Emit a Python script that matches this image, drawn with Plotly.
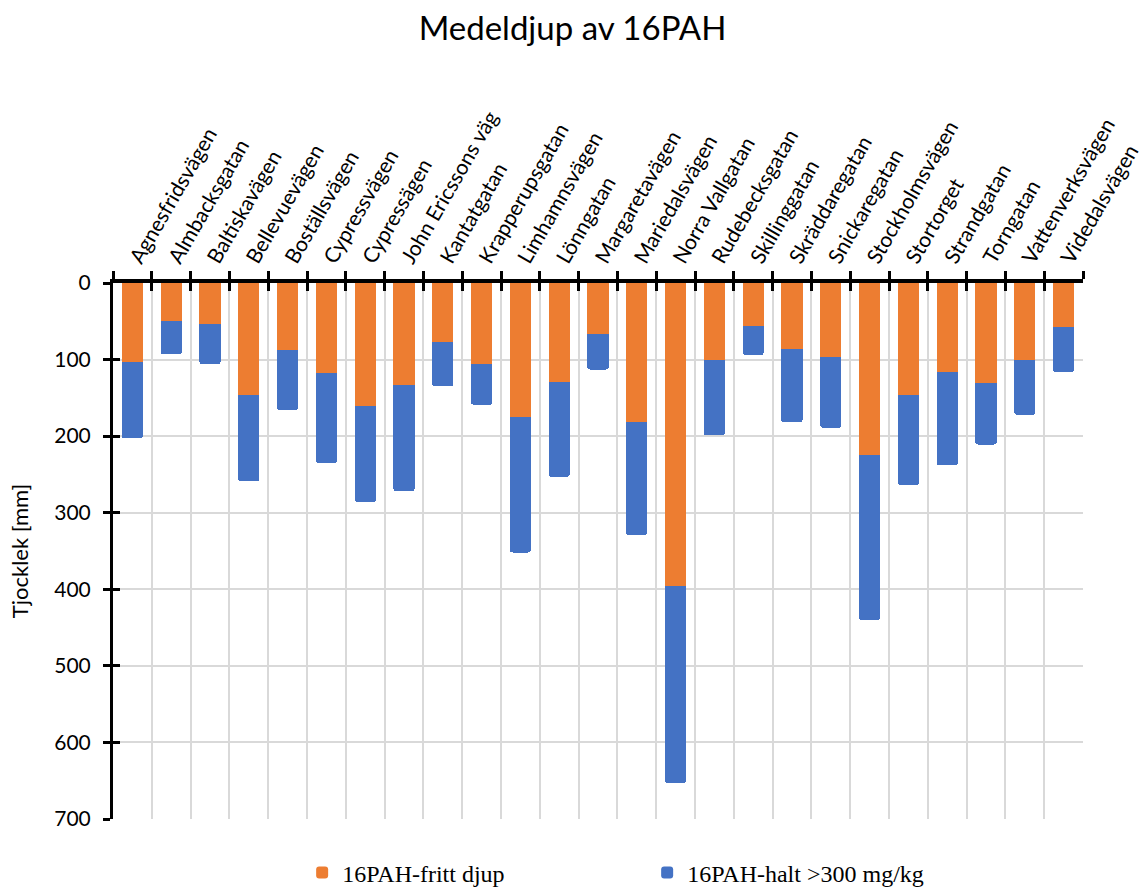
import plotly.graph_objects as go

streets = ["Agnesfridsvägen", "Almbacksgatan", "Baltiskavägen", "Bellevuevägen", "Boställsvägen",
           "Cypressvägen", "Cypressägen", "John Ericssons väg", "Kantatgatan", "Krapperupsgatan",
           "Limhamnsvägen", "Lönngatan", "Margaretavägen", "Mariedalsvägen", "Norra Vallgatan",
           "Rudebecksgatan", "Skillinggatan", "Skräddaregatan", "Snickaregatan", "Stockholmsvägen",
           "Stortorget", "Strandgatan", "Torngatan", "Vattenverksvägen", "Videdalsvägen"]
fritt_djup = [103, 49, 54, 146, 88, 118, 161, 133, 77, 106, 175, 129, 66, 182, 396,
              100, 56, 86, 96, 225, 146, 116, 131, 101, 58]
total_djup = [203, 93, 106, 259, 166, 235, 286, 272, 135, 159, 352, 253, 113, 329, 653,
              199, 94, 182, 189, 440, 264, 238, 211, 172, 116]
halt_300 = [t - f for t, f in zip(total_djup, fritt_djup)]
y_ticks = [0, 100, 200, 300, 400, 500, 600, 700]

ORANGE = "#ED7D31"
BLUE = "#4472C4"
FONT = "Lato"

fig = go.Figure()
fig.add_trace(go.Bar(x=streets, y=fritt_djup, name="16PAH-fritt djup",
                     marker=dict(color=ORANGE, line=dict(width=0))))
fig.add_trace(go.Bar(x=streets, y=halt_300, name="16PAH-halt >300 mg/kg",
                     marker=dict(color=BLUE, line=dict(width=0))))
# invisible helper trace so the overlay axes (inner half of crossing ticks) render
fig.add_trace(go.Bar(x=streets, y=fritt_djup, xaxis="x2", yaxis="y2", opacity=0,
                     showlegend=False, hoverinfo="skip"))

fig.update_layout(
    width=1145, height=888,
    barmode="stack", bargap=0.45, barcornerradius=3,
    plot_bgcolor="white", paper_bgcolor="white",
    margin=dict(l=113, r=62, t=283, b=69, autoexpand=False),
    title=dict(text="Medeldjup av 16PAH", x=0.5, xanchor="center", y=0.968, yanchor="middle",
               font=dict(family=FONT, size=33, color="black")),
    font=dict(family=FONT, color="black"),
    showlegend=True,
    legend=dict(orientation="h", x=0.195, xanchor="left", yref="container", y=0.017, yanchor="middle",
                font=dict(family="Liberation Serif", size=24, color="black"),
                entrywidth=300, entrywidthmode="pixels", itemwidth=30,
                traceorder="normal"),
    xaxis=dict(side="top", type="category", tickson="boundaries", tickangle=-60,
               tickfont=dict(family=FONT, size=21, color="black"),
               showline=True, linecolor="black", linewidth=4,
               ticks="outside", ticklen=8, tickwidth=3, tickcolor="black",
               showgrid=True, gridcolor="#D9D9D9", gridwidth=2,
               mirror=False, zeroline=False),
    xaxis2=dict(overlaying="x", side="top", type="category", tickson="boundaries",
                categoryorder="array", categoryarray=streets,
                showticklabels=False, showline=False, showgrid=False, zeroline=False,
                ticks="inside", ticklen=8, tickwidth=3, tickcolor="black"),
    yaxis=dict(range=[700, 0], tickvals=y_ticks,
               tickfont=dict(family=FONT, size=21, color="black"), ticklabelstandoff=8,
               title=dict(text="Tjocklek [mm]", font=dict(family=FONT, size=22, color="black"), standoff=20),
               showline=True, linecolor="black", linewidth=3,
               ticks="outside", ticklen=7, tickwidth=3, tickcolor="black",
               showgrid=True, gridcolor="#D9D9D9", gridwidth=2, zeroline=False),
    yaxis2=dict(overlaying="y", side="left", range=[700, 0], tickvals=y_ticks,
                showticklabels=False, showline=False, showgrid=False, zeroline=False,
                ticks="inside", ticklen=7, tickwidth=3, tickcolor="black"),
)

fig.write_html("out.html")
